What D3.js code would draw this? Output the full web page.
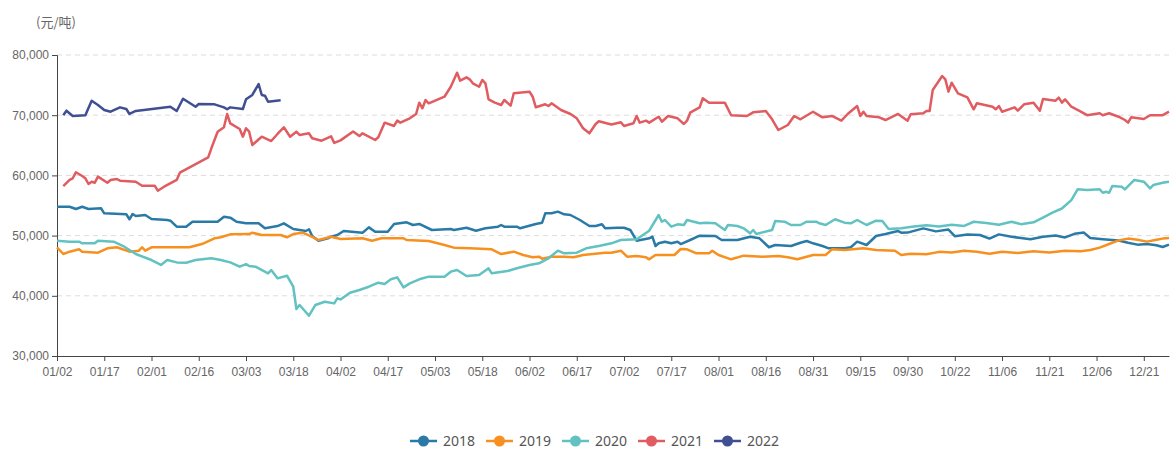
<!DOCTYPE html>
<html>
<head>
<meta charset="utf-8">
<script src="https://cdn.jsdelivr.net/npm/d3@7"></script>
<style>
  body { margin: 0; background: #fff; }
  svg { display: block; font-family: "Noto Sans", "Noto Sans CJK SC", sans-serif; }
</style>
</head>
<body>
<div id="chart"></div>
<script>
// days with no quotes (holidays), left out of the category axis
const skipDays = ['05/01', '10/01', '10/02', '10/03', '10/04', '10/05', '10/06', '10/07'];
const tickLabels = ['01/02', '01/17', '02/01', '02/16', '03/03', '03/18', '04/02', '04/17', '05/03', '05/18',
  '06/02', '06/17', '07/02', '07/17', '08/01', '08/16', '08/31', '09/15', '09/30', '10/22',
  '11/06', '11/21', '12/06', '12/21'];
const yTicks = [30000, 40000, 50000, 60000, 70000, 80000];

const years = ['2018', '2019', '2020', '2021', '2022'];
const colors = ['#2a7aa8', '#f7901e', '#62c2c1', '#e05c60', '#3f4f92'];

const s2018 = [
  ['01/02', 54800], ['01/06', 54800], ['01/08', 54420], ['01/10', 54800], ['01/12', 54420], ['01/16', 54530],
  ['01/17', 53700], ['01/24', 53540], ['01/25', 52710], ['01/26', 53590], ['01/27', 53260], ['01/30', 53420],
  ['02/01', 52760], ['02/06', 52590], ['02/07', 52480], ['02/09', 51480], ['02/12', 51480], ['02/14', 52310],
  ['02/22', 52310], ['02/24', 53140], ['02/26', 52980], ['02/28', 52310], ['03/03', 52040], ['03/07', 52040],
  ['03/09', 51210], ['03/13', 51590], ['03/15', 52040], ['03/18', 51100], ['03/22', 50760], ['03/23', 51050],
  ['03/24', 49930], ['03/26', 49150], ['03/29', 49550], ['03/30', 49820], ['04/01', 50100], ['04/03', 50760],
  ['04/09', 50480], ['04/11', 51370], ['04/13', 50650], ['04/17', 50650], ['04/19', 51930], ['04/23', 52210],
  ['04/25', 51760], ['04/27', 51930], ['05/02', 50930], ['05/08', 51100], ['05/09', 50930], ['05/13', 51310],
  ['05/16', 50810], ['05/19', 51210], ['05/23', 51480], ['05/24', 51760], ['05/25', 51480], ['05/29', 51480],
  ['05/30', 51210], ['06/04', 51930], ['06/06', 52150], ['06/07', 53700], ['06/09', 53700], ['06/11', 53980],
  ['06/13', 53540], ['06/15', 53420], ['06/18', 52590], ['06/21', 51590], ['06/23', 51590], ['06/25', 51880],
  ['06/26', 51210], ['06/30', 51310], ['07/02', 51310], ['07/04', 50930], ['07/06', 49150], ['07/10', 49550],
  ['07/11', 49820], ['07/12', 48270], ['07/13', 48720], ['07/15', 48990], ['07/17', 48720], ['07/19', 48990],
  ['07/20', 48600], ['07/23', 49270], ['07/26', 49980], ['07/31', 49930], ['08/02', 49270], ['08/07', 49270],
  ['08/11', 49820], ['08/14', 49550], ['08/17', 48060], ['08/19', 48440], ['08/24', 48270], ['08/27', 48820],
  ['08/29', 49100], ['08/31', 48720], ['09/03', 48270], ['09/05', 47890], ['09/10', 47890], ['09/12', 48060],
  ['09/14', 48990], ['09/17', 48440], ['09/20', 49930], ['09/23', 50260], ['09/27', 50760], ['09/28', 50480],
  ['09/30', 50500], ['10/12', 51200], ['10/16', 50700], ['10/20', 51000], ['10/22', 49900], ['10/26', 50200],
  ['10/30', 50100], ['11/02', 49500], ['11/05', 50200], ['11/09', 49800], ['11/12', 49600], ['11/15', 49400],
  ['11/19', 49800], ['11/23', 50000], ['11/26', 49700], ['11/29', 50300], ['12/02', 50500], ['12/04', 49600],
  ['12/08', 49400], ['12/13', 49200], ['12/16', 48800], ['12/19', 48500], ['12/22', 48600], ['12/25', 48400],
  ['12/27', 48100], ['12/29', 48500]
];

const s2019 = [
  ['01/02', 48060], ['01/04', 46940], ['01/06', 47330], ['01/09', 47720], ['01/10', 47330], ['01/15', 47160],
  ['01/18', 47890], ['01/21', 48060], ['01/25', 47330], ['01/28', 47490], ['01/29', 48060], ['01/30', 47490],
  ['02/01', 48060], ['02/13', 48060], ['02/17', 48600], ['02/21', 49550], ['02/23', 49720], ['02/26', 50210],
  ['03/04', 50260], ['03/05', 50480], ['03/08', 50100], ['03/14', 50100], ['03/16', 49720], ['03/18', 50260],
  ['03/21', 50480], ['03/25', 49550], ['03/26', 49270], ['03/30', 49820], ['04/02', 49430], ['04/09', 49550],
  ['04/12', 49150], ['04/15', 49550], ['04/22', 49550], ['04/23', 49270], ['04/30', 49100], ['05/06', 48440],
  ['05/09', 48000], ['05/14', 47890], ['05/21', 47720], ['05/24', 46940], ['05/28', 47330], ['05/31', 46780],
  ['06/03', 46390], ['06/05', 46500], ['06/06', 46170], ['06/09', 46500], ['06/13', 46500], ['06/16', 46390],
  ['06/19', 46780], ['06/26', 47160], ['06/28', 47160], ['07/01', 47490], ['07/03', 46500], ['07/06', 46610],
  ['07/09', 46390], ['07/10', 46060], ['07/12', 46780], ['07/18', 46780], ['07/20', 47770], ['07/22', 47720],
  ['07/25', 47050], ['07/29', 47050], ['07/30', 47490], ['08/01', 46780], ['08/05', 46060], ['08/09', 46670],
  ['08/15', 46500], ['08/20', 46610], ['08/23', 46390], ['08/26', 46060], ['08/31', 46780], ['09/04', 46780],
  ['09/06', 47720], ['09/10', 47610], ['09/16', 47890], ['09/20', 47610], ['09/26', 47490], ['09/28', 46780],
  ['10/08', 47000], ['10/13', 46900], ['10/17', 47300], ['10/21', 47200], ['10/25', 47500], ['10/29', 47300],
  ['11/02', 47000], ['11/06', 47300], ['11/11', 47100], ['11/16', 47400], ['11/21', 47200], ['11/26', 47500],
  ['12/01', 47400], ['12/04', 47600], ['12/07', 48000], ['12/10', 48600], ['12/13', 49200], ['12/16', 49500],
  ['12/19', 49300], ['12/22', 49000], ['12/25', 49300], ['12/27', 49500], ['12/29', 49600]
];

const s2020 = [
  ['01/02', 49150], ['01/06', 48990], ['01/09', 48990], ['01/10', 48720], ['01/14', 48720], ['01/15', 49150],
  ['01/20', 48990], ['01/23', 48270], ['01/27', 46940], ['02/01', 45940], ['02/04', 45120], ['02/06', 45940],
  ['02/09', 45550], ['02/12', 45500], ['02/15', 45940], ['02/20', 46230], ['02/23', 45940], ['02/26', 45550],
  ['03/01', 44840], ['03/03', 45270], ['03/04', 44940], ['03/06', 44840], ['03/10', 43730], ['03/11', 44280],
  ['03/13', 42900], ['03/16', 43340], ['03/18', 41510], ['03/19', 37810], ['03/20', 38470], ['03/23', 36690],
  ['03/25', 38470], ['03/28', 39020], ['03/31', 38740], ['04/01', 39570], ['04/02', 39400], ['04/05', 40510],
  ['04/08', 40960], ['04/11', 41510], ['04/14', 42180], ['04/16', 41960], ['04/18', 42740], ['04/20', 43070],
  ['04/22', 41400], ['04/24', 42070], ['04/27', 42740], ['04/30', 43180], ['05/06', 43180], ['05/08', 44010],
  ['05/10', 44290], ['05/13', 43290], ['05/17', 43460], ['05/20', 44570], ['05/21', 43730], ['05/26', 44120],
  ['05/29', 44570], ['06/02', 45120], ['06/05', 45400], ['06/08', 46230], ['06/11', 47490], ['06/13', 47050],
  ['06/17', 47160], ['06/20', 47890], ['06/24', 48270], ['06/28', 48720], ['07/01', 49270], ['07/06', 49380],
  ['07/10', 50810], ['07/13', 53420], ['07/14', 52310], ['07/15', 52590], ['07/17', 51480], ['07/19', 51870],
  ['07/21', 51760], ['07/22', 52590], ['07/26', 52040], ['07/28', 52150], ['07/31', 52040], ['08/03', 50930],
  ['08/04', 51760], ['08/07', 51590], ['08/09', 51210], ['08/11', 50380], ['08/12', 50930], ['08/13', 50260],
  ['08/18', 50930], ['08/19', 52420], ['08/22', 52310], ['08/24', 51760], ['08/27', 51760], ['08/29', 52310],
  ['09/01', 52310], ['09/02', 52040], ['09/04', 51760], ['09/07', 52710], ['09/10', 52150], ['09/12', 52040],
  ['09/14', 52590], ['09/17', 51760], ['09/20', 52480], ['09/22', 52420], ['09/24', 51100], ['09/28', 51210],
  ['10/09', 51500], ['10/13', 51700], ['10/17', 51500], ['10/21', 51800], ['10/25', 51600], ['10/28', 52300],
  ['11/01', 52100], ['11/05', 51800], ['11/09', 52300], ['11/12', 51900], ['11/16', 52200], ['11/19', 53000],
  ['11/22', 53800], ['11/25', 54500], ['11/28', 55900], ['11/30', 57680], ['12/03', 57570], ['12/07', 57680],
  ['12/08', 57120], ['12/09', 57290], ['12/10', 57120], ['12/11', 58240], ['12/14', 58120], ['12/15', 57680],
  ['12/18', 59240], ['12/21', 58950], ['12/23', 57850], ['12/24', 58400], ['12/27', 58790], ['12/29', 58950]
];

const s2021 = [
  ['01/04', 58200], ['01/06', 59240], ['01/07', 59520], ['01/08', 60520], ['01/10', 59900], ['01/11', 59520],
  ['01/12', 58570], ['01/13', 58950], ['01/14', 58790], ['01/15', 59790], ['01/18', 58790], ['01/19', 59240],
  ['01/21', 59400], ['01/22', 59130], ['01/27', 58950], ['01/29', 58290], ['02/02', 58290], ['02/03', 57460],
  ['02/05', 58120], ['02/09', 59240], ['02/10', 60450], ['02/19', 63000], ['02/20', 64500], ['02/22', 67260],
  ['02/24', 67990], ['02/25', 70200], ['02/26', 68650], ['03/01', 67710], ['03/02', 66430], ['03/03', 67830],
  ['03/04', 67260], ['03/05', 65050], ['03/08', 66430], ['03/11', 65710], ['03/13', 66880], ['03/15', 67990],
  ['03/17', 66430], ['03/19', 67260], ['03/20', 66710], ['03/23', 66990], ['03/24', 66170], ['03/27', 65760],
  ['03/30', 66500], ['03/31', 65400], ['04/02', 65820], ['04/06', 67300], ['04/08', 66550], ['04/09', 66990],
  ['04/13', 65880], ['04/14', 66330], ['04/16', 68760], ['04/19', 68210], ['04/20', 69090], ['04/21', 68760],
  ['04/24', 69480], ['04/26', 70200], ['04/27', 72080], ['04/28', 71150], ['04/29', 72520], ['04/30', 71970],
  ['05/06', 73070], ['05/08', 74730], ['05/10', 77060], ['05/11', 75730], ['05/13', 76290], ['05/14', 75960],
  ['05/15', 75300], ['05/17', 74730], ['05/18', 75850], ['05/19', 75300], ['05/20', 72640], ['05/22', 72080],
  ['05/24', 71690], ['05/25', 72520], ['05/27', 71580], ['05/28', 73640], ['06/02', 73910], ['06/03', 73070],
  ['06/04', 71310], ['06/07', 71810], ['06/08', 71530], ['06/09', 71970], ['06/12', 70860], ['06/15', 70200],
  ['06/17', 69480], ['06/19', 67830], ['06/21', 66990], ['06/23', 68540], ['06/24', 69000], ['06/28', 68450],
  ['07/01', 68840], ['07/02', 68210], ['07/05', 68650], ['07/06', 69870], ['07/07', 68760], ['07/09', 69090],
  ['07/10', 68760], ['07/13', 69750], ['07/14', 68920], ['07/16', 69870], ['07/19', 69480], ['07/21', 68540],
  ['07/22', 69090], ['07/23', 70420], ['07/26', 71310], ['07/27', 72810], ['07/29', 72080], ['08/03', 72080],
  ['08/05', 70000], ['08/10', 69870], ['08/12', 70480], ['08/16', 70700], ['08/18', 69320], ['08/20', 67540],
  ['08/23', 68370], ['08/25', 69870], ['08/27', 69320], ['08/31', 70580], ['09/03', 69650], ['09/06', 69870],
  ['09/09', 69090], ['09/11', 70200], ['09/14', 71530], ['09/15', 69870], ['09/16', 70580], ['09/17', 69870],
  ['09/21', 69650], ['09/23', 69200], ['09/27', 70200], ['09/30', 69090], ['10/08', 70150], ['10/12', 70320],
  ['10/13', 70700], ['10/14', 70700], ['10/15', 74190], ['10/18', 76510], ['10/19', 75960], ['10/20', 73910],
  ['10/21', 75400], ['10/23', 73640], ['10/26', 72970], ['10/28', 70980], ['10/29', 71970], ['11/03', 71410],
  ['11/04', 70980], ['11/05', 71530], ['11/06', 70580], ['11/10', 71310], ['11/11', 70750], ['11/13', 71810],
  ['11/16', 72080], ['11/18', 70750], ['11/19', 72690], ['11/23', 72410], ['11/24', 72910], ['11/25', 72080],
  ['11/26', 72640], ['11/28', 71410], ['12/01', 70580], ['12/03', 70000], ['12/07', 70320], ['12/08', 70000],
  ['12/10', 70320], ['12/13', 69750], ['12/15', 69200], ['12/16', 68760], ['12/17', 69650], ['12/21', 69370],
  ['12/23', 70000], ['12/27', 70000], ['12/29', 70580]
];

const s2022 = [
  ['01/04', 70000], ['01/05', 70750], ['01/07', 69870], ['01/11', 70000], ['01/13', 72400], ['01/15', 71700],
  ['01/17', 70860], ['01/19', 70580], ['01/22', 71300], ['01/24', 71030], ['01/25', 70200], ['01/27', 70700],
  ['02/07', 71410], ['02/09', 70700], ['02/11', 72740], ['02/15', 71410], ['02/16', 71860], ['02/21', 71800],
  ['02/24', 71300], ['02/25', 70980], ['02/26', 71300], ['03/02', 71030], ['03/03', 72640], ['03/05', 73360],
  ['03/07', 75180], ['03/08', 73360], ['03/09', 73240], ['03/10', 72240], ['03/14', 72470]
];

const series = [s2018, s2019, s2020, s2021, s2022];

// category axis: every calendar day from 01/02 to 12/29 except the holidays
const fmt = d3.timeFormat('%m/%d');
const categories = d3.timeDay.range(new Date(2019, 0, 2), new Date(2019, 11, 30))
  .map(fmt)
  .filter(d => !skipDays.includes(d));

const width = 1170, height = 450;
const margin = { left: 57, right: 1, top: 55, bottom: 94 };

const svg = d3.select('#chart').append('svg')
  .attr('width', width)
  .attr('height', height);

const x = d3.scalePoint()
  .domain(categories)
  .range([margin.left, width - margin.right]);

const y = d3.scaleLinear()
  .domain([30000, 80000])
  .range([height - margin.bottom, margin.top]);

// grid lines
svg.append('g')
  .selectAll('line')
  .data(yTicks.filter(d => d > 30000))
  .enter().append('line')
  .attr('x1', margin.left)
  .attr('x2', width)
  .attr('y1', d => y(d))
  .attr('y2', d => y(d))
  .attr('stroke', '#dcdcdc')
  .attr('stroke-dasharray', '5,4');

// y axis
const yAxis = svg.append('g')
  .attr('transform', `translate(${margin.left},0)`)
  .call(d3.axisLeft(y).tickValues(yTicks).tickFormat(d3.format(',')).tickSize(5).tickPadding(3));
yAxis.select('.domain').attr('stroke', '#444');
yAxis.selectAll('.tick line').attr('stroke', '#444');
yAxis.selectAll('text').attr('fill', '#666').style('font-size', '12px');

// x axis
const xAxis = svg.append('g')
  .attr('transform', `translate(0,${height - margin.bottom})`)
  .call(d3.axisBottom(x).tickValues(tickLabels).tickSize(5).tickPadding(6).tickSizeOuter(0));
xAxis.select('.domain').attr('stroke', '#444');
xAxis.selectAll('.tick line').attr('stroke', '#444');
xAxis.selectAll('text').attr('fill', '#666').style('font-size', '12px');

// unit
svg.append('text')
  .attr('x', 36)
  .attr('y', 27)
  .attr('fill', '#666')
  .style('font-size', '13px')
  .style('font-family', '"Noto Sans CJK SC", sans-serif')
  .text('(元/吨)');

// lines
const line = d3.line()
  .x(d => x(d[0]))
  .y(d => y(d[1]));

svg.append('g')
  .selectAll('path')
  .data(series)
  .enter().append('path')
  .attr('d', line)
  .attr('fill', 'none')
  .attr('stroke', (d, i) => colors[i])
  .attr('stroke-width', 2.5)
  .attr('stroke-linejoin', 'round');

// legend
const legend = svg.append('g')
  .selectAll('g')
  .data(years)
  .enter().append('g')
  .attr('transform', (d, i) => `translate(${410 + i * 76},441)`);

legend.append('line')
  .attr('x1', 0)
  .attr('x2', 27)
  .attr('stroke', (d, i) => colors[i])
  .attr('stroke-width', 2.5);

legend.append('circle')
  .attr('cx', 13.5)
  .attr('r', 5.5)
  .attr('fill', (d, i) => colors[i]);

legend.append('text')
  .attr('x', 33)
  .attr('dy', '0.35em')
  .attr('fill', '#555')
  .style('font-size', '14px')
  .text(d => d);
</script>
</body>
</html>
